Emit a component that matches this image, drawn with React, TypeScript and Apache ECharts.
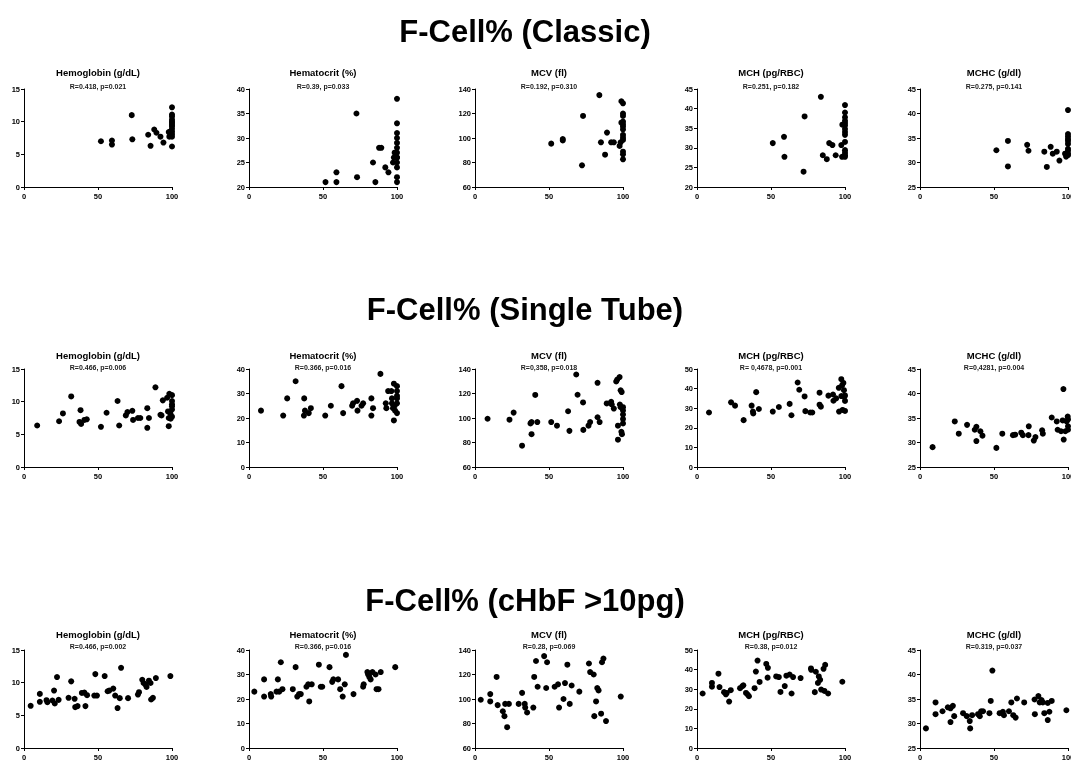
import React, { useEffect, useRef } from "react";
import * as echarts from "echarts";

const rowTitles = ["F-Cell% (Classic)", "F-Cell% (Single Tube)", "F-Cell% (cHbF >10pg)"];
const panelNames = ["Hemoglobin (g/dL)", "Hematocrit (%)", "MCV (fl)", "MCH (pg/RBC)", "MCHC (g/dl)"];
const statLabels = [
  ["R=0.418, p=0.021", "R=0.39, p=0.033", "R=0.192, p=0.310", "R=0.251, p=0.182", "R=0.275, p=0.141"],
  ["R=0.466, p=0.006", "R=0.366, p=0.016", "R=0,358, p=0.018", "R= 0,4678, p=0.001", "R=0,4281, p=0.004"],
  ["R=0.466, p=0.002", "R=0.366, p=0.016", "R=0.28, p=0.069", "R=0.38, p=0.012", "R=0.319, p=0.037"],
];
// [min, max, interval] per row/column
const yScales = [
  [[0, 15, 5], [20, 40, 5], [60, 140, 20], [20, 45, 5], [25, 45, 5]],
  [[0, 15, 5], [0, 40, 10], [60, 140, 20], [0, 50, 10], [25, 45, 5]],
  [[0, 15, 5], [0, 40, 10], [60, 140, 20], [0, 50, 10], [25, 45, 5]],
];
const xScale = [0, 100, 50];

const classicHb = [[52,7.0],[59.4,7.1],[59.4,6.5],[72.8,11.0],[73.2,7.3],[83.9,8.0],[85.5,6.3],[88,8.8],[89.5,8.3],[92.2,7.7],[94.2,6.8],[97.8,8.4],[98.2,7.7],[99,8.5],[99.5,8.0],[100,12.2],[100,11.1],[100,10.8],[100,10.3],[100,10.0],[100,9.8],[100,9.5],[100,9.3],[100,8.9],[100,8.5],[100,8.1],[100,7.7],[100,6.2]];
const classicHct = [[51.7,21],[59.1,21],[59.1,23],[72.6,35],[73,22],[83.8,25],[85.4,21],[87.9,28],[89.4,28],[92.1,24],[94.2,23],[98.4,27],[97.9,26],[97.3,25],[100,38],[100,33],[100,31],[100,30],[100,29],[100,28],[100,27],[100,26],[100,26],[100,25],[100,24],[100,22],[100,21]];
const classicMcv = [[51.5,95.4],[59.3,99.2],[59.3,98],[72.3,77.7],[73,118],[84,135],[85.1,96.5],[87.9,86.4],[89.2,104.4],[92,96.5],[93.8,96.5],[97.7,93.5],[98.4,96.5],[98.9,112.5],[98.9,130],[100,128.3],[100,120],[100,118],[100,113.3],[100,111.2],[100,109.3],[100,107],[100,102.5],[100,100.3],[100,98.4],[100,88.8],[100,86.7],[100,82.6]];
const classicMch = [[51.2,31.2],[58.8,32.8],[59.1,27.7],[72,23.9],[72.7,38],[83.7,43],[85,28.1],[87.7,27.1],[89.3,31.2],[91.5,30.7],[93.7,28.1],[97.5,30.7],[98,27.7],[98.2,35.9],[100,40.9],[100,39],[100,37.8],[100,36.9],[100,36.3],[100,35.7],[100,34.8],[100,34],[100,33.3],[100,31.5],[100,29.4],[100,28.7],[100,28.1],[100,27.7]];
const classicMchc = [[51.6,32.5],[59.4,34.4],[59.4,29.2],[72.4,33.6],[73.3,32.4],[84,32.2],[85.7,29.1],[88.3,33.2],[89.7,31.8],[92.4,32.2],[94.2,30.4],[98,31.8],[98.7,31.2],[100,40.7],[100,35.8],[100,35.3],[100,34.8],[100,34.4],[100,33.8],[100,32.8],[100,32.4],[100,31.8],[100,31.5]];

const singleHb = [[8.9,6.35],[23.7,7.0],[26.3,8.2],[31.9,10.8],[37.5,6.9],[38.2,8.7],[38.6,6.6],[40.8,7.2],[42.4,7.3],[52,6.15],[55.8,8.3],[63.2,10.1],[64.3,6.35],[68.8,7.9],[69.9,8.4],[73.2,8.6],[73.7,7.2],[77,7.5],[78.6,7.5],[83.3,9.0],[83.3,6.0],[84.4,7.5],[88.8,12.2],[92.2,8.0],[92.9,7.9],[93.8,10.2],[96.7,10.6],[97.3,8.5],[97.8,6.25],[97.8,7.5],[98.2,11.2],[98.9,8.2],[99.1,7.4],[100,11.0],[100,10.1],[100,9.6],[100,9.3],[100,8.8],[100,7.7]];
const singleHct = [[8.1,23],[23.1,21],[25.8,28],[31.5,35],[37.3,28],[37.1,21],[37.8,23],[40.4,22],[41.8,24],[51.5,21],[55.3,25],[62.5,33],[63.6,22],[69.7,25],[70.3,26],[73,27],[73.3,23],[76,25],[77.1,26],[82.7,28],[82.7,21],[83.8,24],[88.8,38],[92.4,26],[92.8,24],[94,31],[96.2,31],[96.6,28],[96.6,26],[97.3,24],[97.9,19],[97.9,34],[98.4,25],[98.7,23],[100,33],[100,31],[100,29],[100,28],[100,26],[100,22]];
const singleMcv = [[8.5,99.4],[23.3,98.6],[26.1,104.4],[31.8,77.4],[37.5,95.6],[38.2,96.7],[38.2,86.8],[40.7,118.8],[42.1,96.7],[51.5,96.7],[55.4,93.7],[62.9,105.5],[63.8,89.5],[68.4,135.5],[69.3,119],[73,112.7],[73.2,90.3],[76.7,93.7],[77.8,96.7],[82.8,100.6],[82.8,128.7],[84.2,96.7],[89,111.9],[92,113.2],[92.4,111],[93.8,107.7],[95.4,129.8],[96.1,131.4],[96.6,93.7],[96.6,82.3],[97.7,133.4],[97.9,111],[98.4,122.6],[98.4,108.8],[98.9,88.7],[99.1,121.2],[99.3,86.8],[100,108.8],[100,106.1],[100,102.8],[100,99.2],[100,95.6]];
const singleMch = [[8.1,27.8],[23,33],[25.7,31.3],[31.5,23.9],[36.9,31.3],[37.8,28.3],[38,27.3],[40,38.2],[41.8,29.6],[51.2,28.3],[55.3,30.6],[62.6,32.2],[63.8,26.4],[68,43.1],[69.1,39.4],[72.7,36],[73.2,28.5],[76.5,27.8],[77.9,27.8],[82.8,37.9],[82.8,31.8],[83.7,30.8],[88.8,36.4],[91.9,37],[92.2,33.8],[94,35],[95.8,40.4],[96,28.3],[97.5,44.8],[97.5,36.2],[98,41.6],[98.4,29.1],[98.9,42.9],[99.3,39.2],[99.6,35.9],[100,36.5],[100,33.7],[100,28.6]];
const singleMchc = [[8.5,29.05],[23.5,34.3],[26.2,31.8],[31.8,33.6],[37,32.6],[38.1,33.2],[38.1,30.3],[40.8,32.3],[42.2,31.4],[51.6,28.9],[55.6,31.8],[62.8,31.5],[64.3,31.6],[68.4,32],[69.5,31.5],[73.3,31.5],[73.5,33.3],[76.9,30.4],[78,31.1],[82.5,32.5],[83,31.8],[89,35.1],[92.4,34.3],[93,32.6],[95.3,32.3],[96.4,34.5],[96.9,40.9],[97.1,30.6],[98.2,32.3],[99.1,34.3],[99.8,35.3],[100,32.6],[100,33.3],[100,34.7]];

const hbfHb = [[4.5,6.46],[10.7,8.28],[10.7,7.07],[15.2,7.32],[15.8,7.02],[19.2,7.27],[20.3,8.79],[20.8,6.82],[22.3,10.86],[23.4,7.37],[30.1,7.68],[31.9,10.2],[34.2,7.53],[34.6,6.26],[36.2,6.41],[39.1,8.43],[40.8,8.48],[41.5,6.41],[42.6,8.08],[47.5,8.03],[48.2,11.31],[49.3,8.03],[54.5,11.01],[56.5,8.69],[57.6,8.79],[60.3,9.09],[61.6,8.03],[63.2,6.11],[64.7,7.63],[65.6,12.27],[70.3,7.63],[77,8.18],[77.7,8.54],[79.9,10.45],[80.8,9.95],[82.1,9.7],[82.8,9.34],[84.4,10.3],[85.5,9.95],[85.9,7.42],[87.1,7.68],[89.1,10.7],[98.9,11.01]];
const hbfHct = [[3.6,23],[10.2,28],[10.2,21],[14.7,22],[15,21],[18.6,23],[19.5,28],[20.4,23],[21.5,35],[22.6,24],[29.6,24],[31.5,33],[32.6,21],[33.8,22],[35,22],[38.8,25],[40,26],[40.7,19],[42.4,26],[47.2,34],[48.5,25],[49.5,25],[54.4,33],[56.2,27],[57,28],[60.2,28],[61.6,24],[63.3,21],[64.7,26],[65.5,38],[70.6,22],[77.1,25],[77.5,26],[80,31],[80.5,30],[81.3,29],[82.2,28],[83.4,31],[85.5,30],[86.2,24],[87.5,24],[89,31],[98.8,33]];
const hbfMcv = [[3.9,99.4],[10.3,104],[10.3,98],[14.6,118],[15.3,95],[18.8,90],[19.9,86],[20.4,96],[21.7,77],[22.9,96],[29.5,96],[31.8,105],[33.6,96],[33.9,93],[35.2,89],[39.4,93],[40,118],[41.2,131],[42.3,110],[46.7,135],[48.1,109],[48.7,130],[53.8,110],[56.1,112],[56.8,93],[59.8,100],[60.8,113],[62.4,128],[64,96],[65.3,111],[70.5,106],[77,129],[77.8,122],[80.2,120],[80.6,86],[81.8,98],[82.6,109],[83.5,107],[85.2,88],[85.8,130],[86.8,133],[88.5,82],[98.5,102]];
const hbfMch = [[3.8,27.8],[10.1,33.2],[10.1,31.3],[14.5,37.9],[15.2,31.1],[18.3,28.5],[19.5,27.4],[20.1,28.1],[21.7,23.7],[22.8,29.5],[29.1,30.5],[30.6,31.5],[31.3,32],[33.1,28.1],[34.2,27.3],[35.1,26.4],[38.9,30.5],[39.8,39],[40.9,44.6],[42.3,33.7],[46.8,42.9],[47.9,40.9],[47.7,35.9],[53.5,36.5],[55.3,36.2],[56.4,28.6],[59.3,31.6],[60.4,36.9],[62.6,37.5],[63.9,27.8],[64.9,36.2],[70,35.7],[77,40.6],[77.2,39.9],[79.6,28.5],[80.3,38.9],[82.3,36.5],[81.7,33.2],[83.2,34.8],[83.9,29.8],[85.5,40.4],[86.1,29.1],[86.6,42.4],[88.6,27.8],[98.2,33.8]];
const hbfMchc = [[4,29],[10.5,34.3],[10.5,31.9],[15.2,32.5],[18.8,33.3],[20.6,33.1],[20.6,30.3],[22.2,33.6],[23.1,31.5],[29.1,32.1],[31.6,31.5],[33.6,30.5],[33.9,29],[35.2,31.7],[39.2,31.9],[40.4,31.5],[41.3,32.5],[42.6,32.5],[46.9,32.1],[47.8,34.6],[48.9,40.8],[53.8,32.1],[56,32.4],[56.7,31.7],[60.1,32.5],[61.7,34.3],[63,31.7],[64.6,31.2],[65.5,35.1],[70.4,34.3],[77.4,34.9],[77.6,31.9],[80,35.6],[80.9,34.3],[82.1,34.8],[83,34.3],[84,32.1],[86.3,34.2],[86.3,30.7],[87.4,32.4],[89,34.6],[98.9,32.7]];

const panelData = [
  [classicHb, classicHct, classicMcv, classicMch, classicMchc],
  [singleHb, singleHct, singleMcv, singleMch, singleMchc],
  [hbfHb, hbfHct, hbfMcv, hbfMch, hbfMchc],
];

const FONT = "Arial, 'Liberation Sans', Helvetica, sans-serif";
const gridLefts = [24, 249, 475, 697, 920];
const gridWidth = 148;
const gridTops = [89, 369, 650];
const gridHeight = 98;
const rowTitleY = [31, 309, 600];
const panelTitleY = [72, 355, 634];
const statY = [86, 367, 646];

export default function App() {
  const ref = useRef<HTMLDivElement>(null);
  useEffect(() => {
    if (!ref.current) return;
    const chart = echarts.init(ref.current, null, { renderer: "svg" });
    const grids: any[] = [];
    const xAxes: any[] = [];
    const yAxes: any[] = [];
    const series: any[] = [];
    const graphics: any[] = [];
    const axisLine = { show: true, onZero: false, lineStyle: { color: "#000", width: 1 } };
    const axisTick = { show: true, length: 3, lineStyle: { color: "#000", width: 1 } };
    const labelStyle = { fontSize: 7.5, fontWeight: "bold", color: "#000", fontFamily: FONT };

    rowTitles.forEach((t, r) => {
      graphics.push({
        type: "text",
        x: 525,
        y: rowTitleY[r],
        style: { text: t, fontSize: 31, fontWeight: "bold", fontFamily: FONT, fill: "#000", textAlign: "center", textVerticalAlign: "middle" },
      });
      panelNames.forEach((name, c) => {
        const i = r * 5 + c;
        const [ymin, ymax, yint] = yScales[r][c];
        grids.push({ left: gridLefts[c], top: gridTops[r], width: gridWidth, height: gridHeight, containLabel: false, outerBoundsMode: "none" });
        xAxes.push({
          type: "value", gridIndex: i, min: xScale[0], max: xScale[1], interval: xScale[2],
          axisLine, axisTick, splitLine: { show: false },
          axisLabel: { ...labelStyle, margin: 5 },
        });
        yAxes.push({
          type: "value", gridIndex: i, min: ymin, max: ymax, interval: yint,
          axisLine, axisTick, splitLine: { show: false },
          axisLabel: { ...labelStyle, margin: 4 },
        });
        series.push({
          type: "scatter", xAxisIndex: i, yAxisIndex: i,
          data: panelData[r][c], symbol: "circle", symbolSize: 6,
          itemStyle: { color: "#000", opacity: 1 },
          clip: false,
        });
        const cx = gridLefts[c] + gridWidth / 2;
        graphics.push({
          type: "text", x: cx, y: panelTitleY[r],
          style: { text: name, fontSize: 9.5, fontWeight: "bold", fontFamily: FONT, fill: "#000", textAlign: "center", textVerticalAlign: "middle" },
        });
        graphics.push({
          type: "text", x: cx, y: statY[r],
          style: { text: statLabels[r][c], fontSize: 7, fontWeight: "bold", fontFamily: FONT, fill: "#222", textAlign: "center", textVerticalAlign: "middle" },
        });
      });
    });

    chart.setOption({
      animation: false,
      backgroundColor: "#fff",
      grid: grids,
      xAxis: xAxes,
      yAxis: yAxes,
      series,
      graphic: graphics,
    });
    return () => chart.dispose();
  }, []);
  return <div ref={ref} style={{ position: "fixed", left: 0, top: 0, width: 1071, height: 760, willChange: "transform" }} />;
}
